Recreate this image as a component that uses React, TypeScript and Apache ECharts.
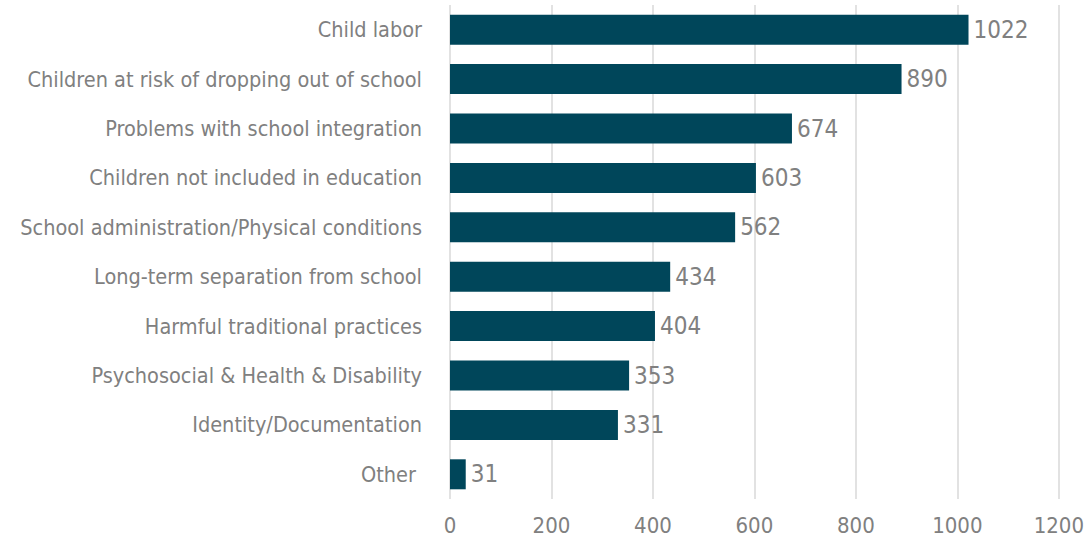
import React, { useEffect, useRef } from "react";
import * as echarts from "echarts";

const categories = [
  "Child labor",
  "Children at risk of dropping out of school",
  "Problems with school integration",
  "Children not included in education",
  "School administration/Physical conditions",
  "Long-term separation from school",
  "Harmful traditional practices",
  "Psychosocial & Health & Disability",
  "Identity/Documentation",
  "Other ",
];
const values = [1022, 890, 674, 603, 562, 434, 404, 353, 331, 31];
const axisMax = 1200;
const axisStep = 200;

const FONT = "'DejaVu Sans Condensed', 'Liberation Sans Narrow', 'Roboto', sans-serif";
const TEXT_COLOR = "#808080";
const BAR_COLOR = "#00465a";

export default function App() {
  const ref = useRef<HTMLDivElement>(null);

  useEffect(() => {
    document.body.style.margin = "0";
    if (!ref.current) return;
    const chart = echarts.init(ref.current, undefined, { renderer: "svg" });
    chart.setOption({
      animation: false,
      backgroundColor: "#ffffff",
      grid: { left: 450, right: 24, top: 5, bottom: 43, containLabel: false },
      xAxis: {
        type: "value",
        min: 0,
        max: axisMax,
        interval: axisStep,
        axisLine: { show: false },
        axisTick: { show: false },
        splitLine: { show: true, lineStyle: { color: "#d9d9d9", width: 1.5 } },
        axisLabel: {
          color: TEXT_COLOR,
          fontFamily: FONT,
          fontSize: 22,
          margin: 15,
          formatter: (v: number) => String(v),
        },
      },
      yAxis: {
        type: "category",
        inverse: true,
        data: categories,
        axisLine: { show: false },
        axisTick: { show: false },
        axisLabel: {
          color: TEXT_COLOR,
          fontFamily: FONT,
          fontSize: 21.5,
          margin: 28,
        },
      },
      series: [
        {
          type: "bar",
          data: values,
          barWidth: 30,
          itemStyle: { color: BAR_COLOR },
          label: {
            show: true,
            position: "right",
            distance: 5,
            color: TEXT_COLOR,
            fontFamily: FONT,
            fontSize: 24,
          },
        },
      ],
    });
    return () => chart.dispose();
  }, []);

  return (
    <div
      ref={ref}
      style={{ position: "fixed", left: 0, top: 0, width: 1087, height: 542 }}
    />
  );
}
